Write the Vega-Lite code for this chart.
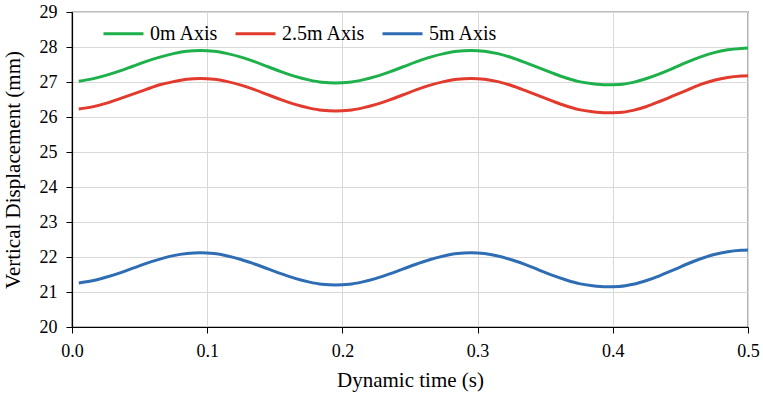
{
  "$schema": "https://vega.github.io/schema/vega-lite/v6.json",
  "width": 676,
  "height": 315,
  "autosize": "none",
  "padding": {"left": 72, "top": 12, "right": 15, "bottom": 69},
  "background": "white",
  "config": {
    "font": "Liberation Serif",
    "view": {"stroke": "black", "strokeWidth": 1.2},
    "axis": {
      "labelFont": "Liberation Serif",
      "titleFont": "Liberation Serif",
      "labelFontSize": 18,
      "titleFontSize": 21,
      "labelColor": "black",
      "titleColor": "black",
      "titleFontWeight": "normal",
      "domainColor": "black",
      "domainWidth": 1.2,
      "tickColor": "black",
      "tickSize": 6,
      "labelFlush": false,
      "gridColor": "#d9d9d9",
      "gridWidth": 1
    },
    "legend": {
      "labelFont": "Liberation Serif",
      "labelFontSize": 20,
      "labelColor": "black"
    }
  },
  "data": {
    "values": [
      {"t": 0.005, "a0": 27.02, "a25": 26.23, "a5": 21.26},
      {"t": 0.015, "a0": 27.09, "a25": 26.29, "a5": 21.32},
      {"t": 0.025, "a0": 27.19, "a25": 26.39, "a5": 21.42},
      {"t": 0.035, "a0": 27.31, "a25": 26.52, "a5": 21.54},
      {"t": 0.045, "a0": 27.45, "a25": 26.655, "a5": 21.68},
      {"t": 0.055, "a0": 27.59, "a25": 26.79, "a5": 21.82},
      {"t": 0.065, "a0": 27.71, "a25": 26.92, "a5": 21.94},
      {"t": 0.075, "a0": 27.81, "a25": 27.01, "a5": 22.04},
      {"t": 0.085, "a0": 27.88, "a25": 27.08, "a5": 22.1},
      {"t": 0.095, "a0": 27.9, "a25": 27.1, "a5": 22.12},
      {"t": 0.105, "a0": 27.88, "a25": 27.08, "a5": 22.1},
      {"t": 0.115, "a0": 27.81, "a25": 27.01, "a5": 22.03},
      {"t": 0.125, "a0": 27.71, "a25": 26.91, "a5": 21.93},
      {"t": 0.135, "a0": 27.58, "a25": 26.78, "a5": 21.8},
      {"t": 0.145, "a0": 27.435, "a25": 26.635, "a5": 21.66},
      {"t": 0.155, "a0": 27.29, "a25": 26.49, "a5": 21.52},
      {"t": 0.165, "a0": 27.16, "a25": 26.36, "a5": 21.39},
      {"t": 0.175, "a0": 27.06, "a25": 26.26, "a5": 21.29},
      {"t": 0.185, "a0": 26.99, "a25": 26.19, "a5": 21.22},
      {"t": 0.195, "a0": 26.97, "a25": 26.17, "a5": 21.2},
      {"t": 0.205, "a0": 26.99, "a25": 26.19, "a5": 21.22},
      {"t": 0.215, "a0": 27.06, "a25": 26.26, "a5": 21.29},
      {"t": 0.225, "a0": 27.16, "a25": 26.36, "a5": 21.39},
      {"t": 0.235, "a0": 27.29, "a25": 26.49, "a5": 21.52},
      {"t": 0.245, "a0": 27.435, "a25": 26.635, "a5": 21.66},
      {"t": 0.255, "a0": 27.58, "a25": 26.78, "a5": 21.8},
      {"t": 0.265, "a0": 27.71, "a25": 26.91, "a5": 21.93},
      {"t": 0.275, "a0": 27.81, "a25": 27.01, "a5": 22.03},
      {"t": 0.285, "a0": 27.88, "a25": 27.08, "a5": 22.1},
      {"t": 0.295, "a0": 27.9, "a25": 27.1, "a5": 22.12},
      {"t": 0.305, "a0": 27.88, "a25": 27.08, "a5": 22.1},
      {"t": 0.315, "a0": 27.81, "a25": 27.01, "a5": 22.03},
      {"t": 0.325, "a0": 27.7, "a25": 26.9, "a5": 21.92},
      {"t": 0.335, "a0": 27.56, "a25": 26.76, "a5": 21.79},
      {"t": 0.345, "a0": 27.41, "a25": 26.61, "a5": 21.635},
      {"t": 0.355, "a0": 27.26, "a25": 26.46, "a5": 21.48},
      {"t": 0.365, "a0": 27.12, "a25": 26.32, "a5": 21.35},
      {"t": 0.375, "a0": 27.01, "a25": 26.21, "a5": 21.24},
      {"t": 0.385, "a0": 26.95, "a25": 26.15, "a5": 21.18},
      {"t": 0.395, "a0": 26.92, "a25": 26.12, "a5": 21.15},
      {"t": 0.405, "a0": 26.93, "a25": 26.13, "a5": 21.16},
      {"t": 0.415, "a0": 26.99, "a25": 26.19, "a5": 21.22},
      {"t": 0.425, "a0": 27.1, "a25": 26.3, "a5": 21.33},
      {"t": 0.435, "a0": 27.24, "a25": 26.45, "a5": 21.47},
      {"t": 0.445, "a0": 27.4, "a25": 26.61, "a5": 21.63},
      {"t": 0.455, "a0": 27.57, "a25": 26.77, "a5": 21.8},
      {"t": 0.465, "a0": 27.72, "a25": 26.93, "a5": 21.95},
      {"t": 0.475, "a0": 27.84, "a25": 27.05, "a5": 22.07},
      {"t": 0.485, "a0": 27.92, "a25": 27.13, "a5": 22.15},
      {"t": 0.495, "a0": 27.96, "a25": 27.17, "a5": 22.19},
      {"t": 0.5, "a0": 27.97, "a25": 27.18, "a5": 22.2}
    ]
  },
  "transform": [
    {"fold": ["a0", "a25", "a5"], "as": ["key", "v"]}
  ],
  "mark": {"type": "line", "interpolate": "monotone", "strokeWidth": 3},
  "encoding": {
    "x": {
      "field": "t",
      "type": "quantitative",
      "scale": {"domain": [0, 0.5], "nice": false},
      "axis": {"title": "Dynamic time (s)", "values": [0, 0.1, 0.2, 0.3, 0.4, 0.5], "format": ".1f", "labelFont": "Liberation Serif", "titleFont": "Liberation Serif", "labelPadding": 9, "titlePadding": 9}
    },
    "y": {
      "field": "v",
      "type": "quantitative",
      "scale": {"domain": [20, 29], "nice": false, "zero": false},
      "axis": {"title": "Vertical Displacement (mm)", "values": [20, 21, 22, 23, 24, 25, 26, 27, 28, 29], "labelFont": "Liberation Serif", "titleFont": "Liberation Serif", "labelPadding": 9, "titlePadding": 16}
    },
    "color": {
      "field": "key",
      "type": "nominal",
      "scale": {"domain": ["a0", "a25", "a5"], "range": ["#1DB04B", "#E23A2C", "#2E6DB4"]},
      "legend": {
        "title": null,
        "orient": "none",
        "legendX": 30,
        "legendY": 0,
        "direction": "horizontal",
        "symbolType": "stroke",
        "symbolSize": 1600,
        "symbolStrokeWidth": 3,
        "columnPadding": 10,
        "labelOffset": 5,
        "labelExpr": "datum.value == 'a0' ? '0m Axis' : datum.value == 'a25' ? '2.5m Axis' : '5m Axis'"
      }
    }
  }
}
